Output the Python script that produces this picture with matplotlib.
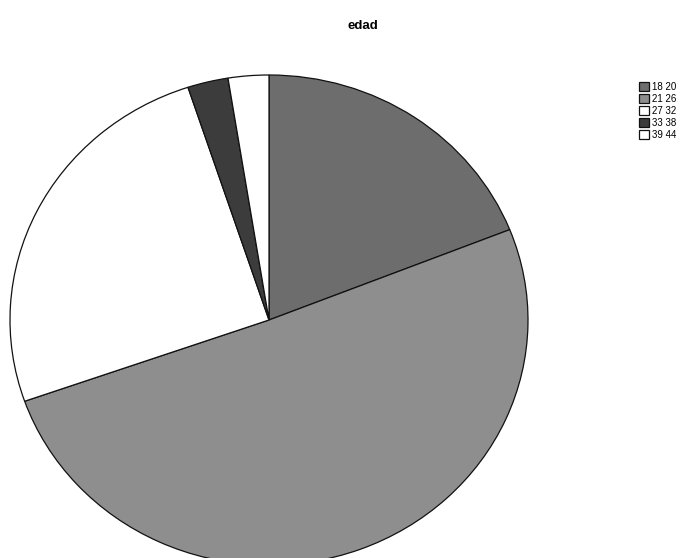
import matplotlib
matplotlib.use("Agg")
import matplotlib.pyplot as plt

# Age groups and respondent counts
categories = ["18 20", "21 26", "27 32", "33 38", "39 44"]
counts = [15, 40, 20, 2, 2]
colors = ["#6d6d6d", "#8e8e8e", "#ffffff", "#3c3c3c", "#ffffff"]

plt.rcParams["font.family"] = ["Liberation Sans", "DejaVu Sans"]

W, H = 693, 558
fig = plt.figure(figsize=(W / 100, H / 100), dpi=100)
fig.patch.set_facecolor("white")

# Pie area (slightly wider than tall)
ax = fig.add_axes([10 / W, (H - 565) / H, 518 / W, 490 / H])
wedges, _ = ax.pie(
    counts,
    colors=colors,
    startangle=90,
    counterclock=False,
    wedgeprops=dict(edgecolor="#111111", linewidth=0.9),
)
ax.set_aspect("auto")
ax.set_xlim(-1, 1)
ax.set_ylim(-1, 1)
ax.axis("off")

fig.text(363 / W, 1 - 26 / H, "edad", ha="center", va="center",
         fontsize=9.5, fontweight="bold")

fig.legend(
    wedges, categories,
    loc="upper left",
    bbox_to_anchor=(634 / W, 1 - 77 / H),
    frameon=False,
    fontsize=7,
    handlelength=1.0,
    handleheight=1.0,
    handletextpad=0.35,
    labelspacing=0.2,
    borderpad=0,
)

fig.savefig("out.png", dpi=100, facecolor="white")
